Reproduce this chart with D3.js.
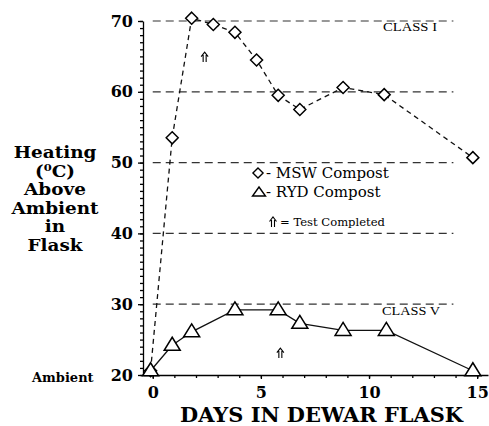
<!DOCTYPE html>
<html>
<head>
<meta charset="utf-8">
<script src="https://cdn.jsdelivr.net/npm/d3@7"></script>
<style>
  body { margin: 0; background: #fff; }
  svg { display: block; }
</style>
</head>
<body>
<svg width="489" height="426"></svg>
<script>
// values
const mswDays = [-0.1, 0.9, 1.8, 2.8, 3.8, 4.8, 5.8, 6.8, 8.8, 10.7, 14.8];
const mswTemp = [20.6, 53.5, 70.4, 69.5, 68.4, 64.5, 59.5, 57.5, 60.6, 59.6, 50.7];
const rydDays = [-0.1, 0.9, 1.8, 3.8, 5.8, 6.8, 8.8, 10.8, 14.8];
const rydTemp = [20.6, 24.2, 26.1, 29.2, 29.2, 27.3, 26.3, 26.3, 20.6];
const gridLevels = [30, 40, 50, 60, 70];
const yTickLabels = [20, 30, 40, 50, 60, 70];
const xTickLabels = [0, 5, 10, 15];
const arrowDays = [2.4, 5.9];
const arrowTemps = [64.9, 23.1];
const yTitle = ['Heating', '(0C)', 'Above', 'Ambient', 'in', 'Flask'];

const svg = d3.select('svg');
const serif = 'DejaVu Serif, serif';

const x = d3.scaleLinear().domain([-0.45, 15.5]).range([143, 488]);
const y = d3.scaleLinear().domain([20, 70]).range([375, 21]);

// dashed reference lines
svg.append('g').selectAll('line').data(gridLevels).enter().append('line')
    .attr('x1', x(0)).attr('x2', x(13.9))
    .attr('y1', d => y(d)).attr('y2', d => y(d))
    .attr('stroke', '#333').attr('stroke-width', 1.2)
    .attr('stroke-dasharray', '8,5');

// axes: minor ticks every unit
svg.append('g').attr('transform', `translate(${x.range()[0]},0)`)
    .call(d3.axisLeft(y).tickValues(d3.range(20, 71)).tickSize(3).tickSizeOuter(0).tickFormat(''));
svg.append('g').attr('transform', `translate(${x.range()[0]},0)`)
    .call(d3.axisLeft(y).tickValues(yTickLabels).tickSize(5).tickPadding(5).tickSizeOuter(0))
    .call(g => g.select('.domain').remove())
    .selectAll('text')
    .attr('font-family', serif).attr('font-weight', 'bold').attr('font-size', 16).attr('fill', '#000');

svg.append('g').attr('transform', `translate(0,${y(20)})`)
    .call(d3.axisBottom(x).tickValues(d3.range(0, 16)).tickSize(3).tickSizeOuter(0).tickFormat(''));
svg.append('g').attr('transform', `translate(0,${y(20)})`)
    .call(d3.axisBottom(x).tickValues(xTickLabels).tickSize(4).tickPadding(8).tickSizeOuter(0))
    .call(g => g.select('.domain').remove())
    .selectAll('text')
    .attr('font-family', serif).attr('font-weight', 'bold').attr('font-size', 16).attr('fill', '#000');

svg.selectAll('.domain, .tick line').attr('stroke', '#000').attr('stroke-width', 1.3);

// series lines
const line = d3.line().x(d => x(d[0])).y(d => y(d[1]));
const msw = d3.zip(mswDays, mswTemp);
const ryd = d3.zip(rydDays, rydTemp);

svg.append('path').datum(msw).attr('d', line)
    .attr('fill', 'none').attr('stroke', '#111').attr('stroke-width', 1.3)
    .attr('stroke-dasharray', '5,4');
svg.append('path').datum(ryd).attr('d', line)
    .attr('fill', 'none').attr('stroke', '#111').attr('stroke-width', 1.3);

const diamond = 'M0,-6L6,0L0,6L-6,0Z';
const triangle = 'M0,-8L8,5L-8,5Z';
const dblArrow = 'M-1.5,5V-2M1.5,5V-2M-3.5,-0.5L0,-5L3.5,-0.5';

svg.append('g').selectAll('path').data(msw).enter().append('path')
    .attr('d', diamond)
    .attr('transform', d => `translate(${x(d[0])},${y(d[1])})`)
    .attr('fill', '#fff').attr('stroke', '#000').attr('stroke-width', 1.5);
svg.append('g').selectAll('path').data(ryd).enter().append('path')
    .attr('d', triangle)
    .attr('transform', d => `translate(${x(d[0])},${y(d[1])})`)
    .attr('fill', '#fff').attr('stroke', '#000').attr('stroke-width', 1.5);

// test completed arrows
svg.append('g').selectAll('path').data(d3.zip(arrowDays, arrowTemps)).enter().append('path')
    .attr('d', dblArrow)
    .attr('transform', d => `translate(${x(d[0])},${y(d[1])})`)
    .attr('fill', 'none').attr('stroke', '#000').attr('stroke-width', 1.1);

// class labels
svg.append('text').attr('x', 383).attr('y', 31)
    .attr('font-family', 'Liberation Serif, serif').attr('font-size', 13)
    .attr('textLength', 54).attr('lengthAdjust', 'spacingAndGlyphs')
    .text('CLASS I');
svg.append('text').attr('x', 382).attr('y', 315)
    .attr('font-family', 'Liberation Serif, serif').attr('font-size', 13)
    .attr('textLength', 58).attr('lengthAdjust', 'spacingAndGlyphs')
    .text('CLASS V');

// legend
svg.append('path').attr('d', diamond).attr('transform', 'translate(258,173) scale(0.85)')
    .attr('fill', '#fff').attr('stroke', '#000').attr('stroke-width', 1.6);
svg.append('path').attr('d', 'M0,-5L6.5,4L-6.5,4Z').attr('transform', 'translate(259,192)')
    .attr('fill', '#fff').attr('stroke', '#000').attr('stroke-width', 1.4);
svg.append('text').attr('x', 266).attr('y', 178)
    .attr('font-family', serif).attr('font-size', 15).text('- MSW Compost');
svg.append('text').attr('x', 266).attr('y', 197)
    .attr('font-family', serif).attr('font-size', 15).text('- RYD Compost');
svg.append('path').attr('d', dblArrow).attr('transform', 'translate(273,222)')
    .attr('fill', 'none').attr('stroke', '#000').attr('stroke-width', 1.1);
svg.append('text').attr('x', 280).attr('y', 226)
    .attr('font-family', serif).attr('font-size', 11.5)
    .attr('textLength', 105).attr('lengthAdjust', 'spacingAndGlyphs')
    .text('= Test Completed');

// axis titles
const title = svg.append('g')
    .attr('transform', 'translate(55,0) scale(1.15,1)')
    .attr('font-family', serif).attr('font-weight', 'bold').attr('font-size', 16)
    .attr('text-anchor', 'middle');
yTitle.forEach((t, i) => {
    const tx = title.append('text').attr('x', 0).attr('y', 158 + i * 18.6);
    if (t === '(0C)') {
        tx.append('tspan').text('(');
        tx.append('tspan').attr('font-size', 10).attr('dy', -6).text('0');
        tx.append('tspan').attr('dy', 6).text('C)');
    } else {
        tx.text(t);
    }
});

svg.append('text').attr('x', 32).attr('y', 382)
    .attr('font-family', serif).attr('font-weight', 'bold').attr('font-size', 13)
    .text('Ambient');

svg.append('text').attr('x', 180).attr('y', 422)
    .attr('font-family', serif).attr('font-weight', 'bold').attr('font-size', 20)
    .attr('textLength', 283).attr('lengthAdjust', 'spacingAndGlyphs')
    .text('DAYS IN DEWAR FLASK');
</script>
</body>
</html>
